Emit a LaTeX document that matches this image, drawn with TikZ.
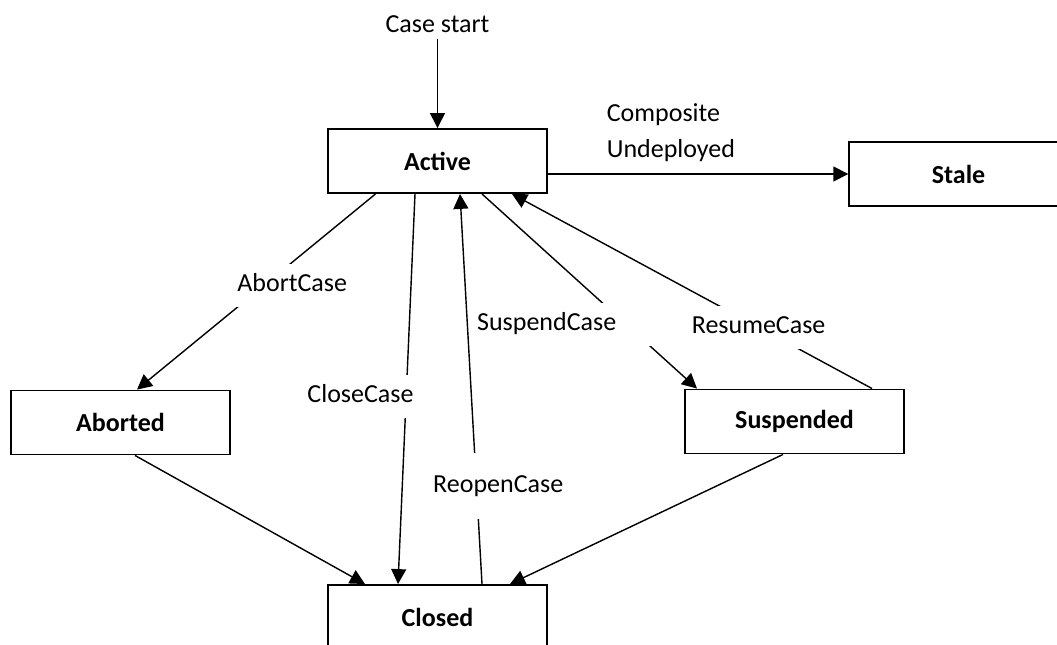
\documentclass[tikz,border=0pt]{standalone}
\usepackage{fontspec}
\setmainfont{Carlito}
\usetikzlibrary{arrows.meta,calc}
\newcommand{\fsz}{\fontsize{14.8}{17}\selectfont}
\tikzset{
  every node/.style={font=\fsz, text=black},
  st/.style={draw=black, line width=1.1pt, minimum width=4.37cm, minimum height=1.28cm, inner sep=0pt, font=\fsz\bfseries},
  arr/.style={-{Triangle[length=8.5pt,width=8.5pt]}, line width=0.8pt, draw=black},
  lbl/.style={fill=white, inner xsep=2pt, inner ysep=5.5pt, text height=10.5pt, text depth=3pt},
}

\begin{document}
\begin{tikzpicture}[x=0.02cm, y=-0.02cm]
\clip (0,0) rectangle (1057,645);
% states
\node[st] (active) at (437.5,161) {Active};
\node[st] (stale) at (958.5,174) {Stale};
\node[st] (aborted) at (120.5,422.5) {Aborted};
\node[st] (suspended) at (794.5,421.5) {Suspended};
\node[st] (closed) at (437.5,617) {Closed};
\node (start) at (437.5,24) {Case start};
% transitions
\draw[arr] (start) -- (active);
\draw[arr] (active.east |- stale.west) -- (stale.west)
  node[pos=.41, above=3pt, align=left, font=\fontsize{14.8}{20.5}\selectfont] {Composite\\Undeployed};
\draw[arr] ($(active.south)+(-62,0)$) -- ($(aborted.north)+(16.5,0)$)
  node[lbl, pos=.467, xshift=16pt] {AbortCase};
\draw[arr] ($(active.south)+(-22.5,0)$) -- ($(closed.north)+(-39.5,0)$)
  node[lbl, pos=.518, xshift=-26pt] {CloseCase};
\draw[arr] ($(closed.north)+(44.5,0)$) -- ($(active.south)+(22.5,0)$)
  node[lbl, pos=.252, xshift=12.4pt, inner ysep=12pt] {ReopenCase};
\draw[arr] ($(active.south)+(44.5,0)$) -- ($(suspended.north)+(-97.5,0)$)
  node[lbl, pos=.67, xshift=-36.4pt, inner xsep=4pt, text width=3.4cm, align=left] {SuspendCase};
\draw[arr] ($(suspended.north)+(77.5,0)$) -- ($(active.south)+(74.5,0)$)
  node[lbl, pos=.315] {ResumeCase};
\draw[arr] ($(aborted.south)+(14.5,0)$) -- ($(closed.north)+(-72.5,0)$);
\draw[arr] ($(suspended.south)+(-11.5,0)$) -- ($(closed.north)+(72.5,0)$);
\end{tikzpicture}
\end{document}
